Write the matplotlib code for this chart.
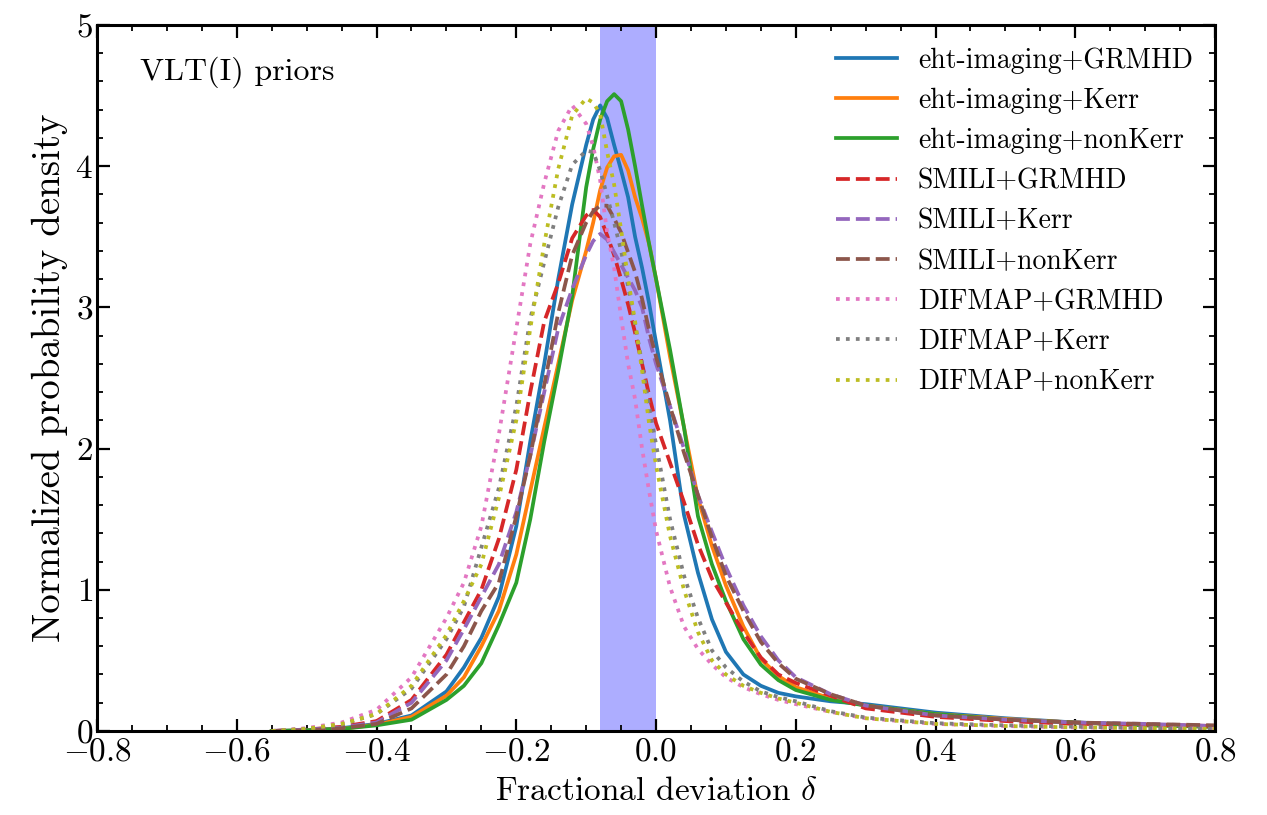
import numpy as np
import matplotlib
matplotlib.use("Agg")
import matplotlib.pyplot as plt
from matplotlib.ticker import MultipleLocator

plt.rcParams['font.family'] = 'serif'
plt.rcParams['font.serif'] = ['cmr10', 'DejaVu Serif']
plt.rcParams['mathtext.fontset'] = 'cm'
plt.rcParams['axes.formatter.use_mathtext'] = True
plt.rcParams['axes.unicode_minus'] = True

# fractional deviation grid
delta = [-0.55, -0.5, -0.45, -0.4, -0.35, -0.3, -0.275, -0.25, -0.225, -0.2,
         -0.18, -0.16, -0.14, -0.12, -0.1, -0.09, -0.08, -0.07, -0.06, -0.05,
         -0.04, -0.03, -0.02, -0.01, 0.0, 0.02, 0.04, 0.06, 0.08, 0.1,
         0.125, 0.15, 0.175, 0.2, 0.25, 0.3, 0.4, 0.5, 0.6, 0.7, 0.8]

eht_grmhd = [0.0, 0.005, 0.02, 0.05, 0.11, 0.28, 0.45, 0.66, 0.95, 1.45,
             2.05, 2.6, 3.2, 3.73, 4.15, 4.33, 4.43, 4.34, 4.15, 3.97,
             3.78, 3.5, 3.28, 3.03, 2.75, 2.2, 1.53, 1.12, 0.79, 0.56,
             0.4, 0.32, 0.27, 0.245, 0.21, 0.19, 0.13, 0.09, 0.06, 0.045, 0.03]
eht_kerr = [0.0, 0.004, 0.015, 0.045, 0.1, 0.25, 0.38, 0.6, 0.85, 1.25,
            1.7, 2.15, 2.6, 3.05, 3.4, 3.6, 3.83, 3.99, 4.07, 4.08,
            3.97, 3.78, 3.63, 3.45, 3.2, 2.65, 2.15, 1.65, 1.31, 1.03,
            0.74, 0.51, 0.39, 0.31, 0.23, 0.18, 0.12, 0.085, 0.06, 0.04, 0.03]
eht_nonkerr = [0.0, 0.005, 0.015, 0.04, 0.08, 0.22, 0.32, 0.48, 0.75, 1.05,
               1.5, 2.05, 2.55, 3.08, 3.85, 4.12, 4.33, 4.46, 4.51, 4.46,
               4.26, 4.0, 3.72, 3.45, 3.2, 2.7, 2.15, 1.52, 1.18, 0.92,
               0.65, 0.47, 0.36, 0.29, 0.22, 0.18, 0.12, 0.08, 0.06, 0.04, 0.03]
smili_grmhd = [0.0, 0.01, 0.03, 0.07, 0.22, 0.54, 0.77, 1.0, 1.36, 1.85,
               2.4, 2.9, 3.17, 3.49, 3.65, 3.69, 3.64, 3.51, 3.37, 3.2,
               3.02, 2.82, 2.6, 2.38, 2.18, 1.9, 1.62, 1.32, 1.08, 0.91,
               0.7, 0.52, 0.4, 0.34, 0.25, 0.16, 0.1, 0.07, 0.05, 0.045, 0.035]
smili_kerr = [0.0, 0.01, 0.025, 0.06, 0.2, 0.5, 0.72, 0.95, 1.18, 1.55,
              1.95, 2.4, 2.85, 3.13, 3.37, 3.47, 3.52, 3.48, 3.39, 3.3,
              3.21, 3.12, 3.0, 2.78, 2.6, 2.3, 2.0, 1.67, 1.41, 1.16,
              0.89, 0.67, 0.5, 0.38, 0.26, 0.18, 0.11, 0.08, 0.06, 0.05, 0.035]
smili_nonkerr = [0.0, 0.005, 0.02, 0.05, 0.16, 0.4, 0.6, 0.85, 1.05, 1.52,
                 1.95, 2.45, 2.96, 3.37, 3.6, 3.68, 3.72, 3.72, 3.63, 3.53,
                 3.39, 3.25, 3.06, 2.84, 2.65, 2.3, 1.97, 1.67, 1.37, 1.1,
                 0.85, 0.63, 0.48, 0.37, 0.26, 0.18, 0.11, 0.08, 0.06, 0.05, 0.04]
difmap_grmhd = [0.0, 0.02, 0.06, 0.15, 0.38, 0.8, 1.05, 1.45, 2.1, 2.85,
                3.45, 3.88, 4.25, 4.43, 4.3, 4.14, 3.9, 3.53, 3.28, 2.93,
                2.6, 2.35, 2.0, 1.7, 1.42, 1.02, 0.74, 0.58, 0.47, 0.38,
                0.31, 0.26, 0.22, 0.19, 0.135, 0.09, 0.05, 0.035, 0.025, 0.02, 0.015]
difmap_kerr = [0.0, 0.015, 0.045, 0.12, 0.3, 0.65, 0.88, 1.3, 1.72, 2.3,
               2.92, 3.32, 3.71, 4.01, 4.11, 4.1, 3.97, 3.79, 3.6, 3.4,
               3.15, 2.88, 2.6, 2.3, 2.03, 1.5, 1.1, 0.8, 0.57, 0.45,
               0.35, 0.28, 0.24, 0.21, 0.14, 0.095, 0.055, 0.04, 0.03, 0.02, 0.015]
difmap_nonkerr = [0.0, 0.015, 0.05, 0.12, 0.32, 0.68, 0.92, 1.18, 1.65, 2.2,
                  2.85, 3.45, 3.98, 4.36, 4.48, 4.45, 4.37, 4.1, 3.87, 3.55,
                  3.2, 2.9, 2.55, 2.18, 1.88, 1.38, 1.0, 0.7, 0.5, 0.4,
                  0.32, 0.27, 0.23, 0.2, 0.135, 0.09, 0.05, 0.035, 0.025, 0.02, 0.015]

labels = ['eht-imaging+GRMHD', 'eht-imaging+Kerr', 'eht-imaging+nonKerr',
          'SMILI+GRMHD', 'SMILI+Kerr', 'SMILI+nonKerr',
          'DIFMAP+GRMHD', 'DIFMAP+Kerr', 'DIFMAP+nonKerr']
curves = [eht_grmhd, eht_kerr, eht_nonkerr, smili_grmhd, smili_kerr,
          smili_nonkerr, difmap_grmhd, difmap_kerr, difmap_nonkerr]
styles = ['-'] * 3 + ['--'] * 3 + [':'] * 3

# measured band
band_lo, band_hi = -0.08, 0.0

fig = plt.figure(figsize=(12.67, 8.15), dpi=100)
ax = fig.add_axes([0.0766, 0.1031, 0.8824, 0.8663])

ax.axvspan(band_lo, band_hi, color='blue', alpha=0.32, lw=0, zorder=0)

for i in range(len(curves)):
    ax.plot(delta, curves[i], ls=styles[i], color='C%d' % i, lw=2.7,
            label=labels[i])

ax.set_xlim(-0.8, 0.8)
ax.set_ylim(0, 5)
ax.xaxis.set_major_locator(MultipleLocator(0.2))
ax.xaxis.set_minor_locator(MultipleLocator(0.05))
ax.yaxis.set_major_locator(MultipleLocator(1))
ax.yaxis.set_minor_locator(MultipleLocator(0.2))
ax.tick_params(which='both', direction='in', top=True, right=True,
               labelsize=24)
ax.tick_params(axis='x', pad=5)
ax.tick_params(axis='y', pad=3)
ax.tick_params(which='major', length=9, width=1.6)
ax.tick_params(which='minor', length=4.5, width=1.3)
for s in ax.spines.values():
    s.set_linewidth(2.2)

ax.set_xlabel(r'Fractional deviation $\delta$', fontsize=24, labelpad=7)
ax.set_ylabel('Normalized probability density', fontsize=28, labelpad=5)
ax.text(0.038, 0.933, 'VLT(I) priors', transform=ax.transAxes,
        fontsize=23, ha='left', va='center')

ax.legend(loc='upper right', frameon=False, fontsize=20, handlelength=2.2,
          handletextpad=0.75, labelspacing=0.5, borderaxespad=0.4)

fig.savefig('out.png', dpi=100)
